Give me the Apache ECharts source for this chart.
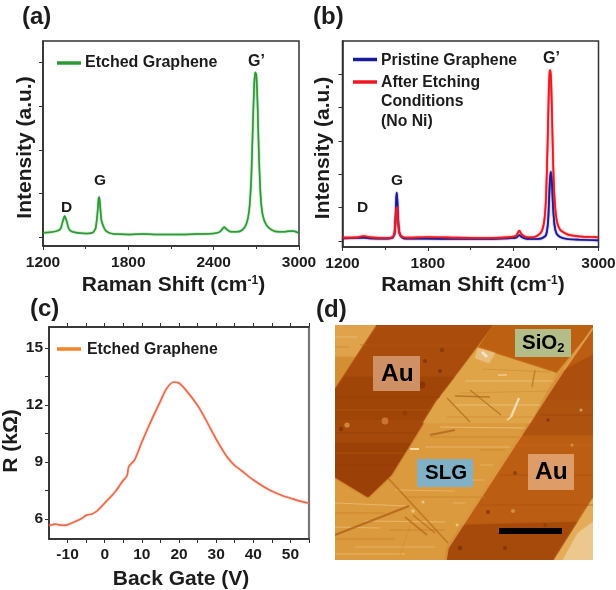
<!DOCTYPE html>
<html><head><meta charset="utf-8">
<style>html,body{margin:0;padding:0;background:#fff}#c{width:616px;height:590px}</style>
<script src="https://cdn.jsdelivr.net/npm/echarts@6/dist/echarts.min.js"></script>
</head><body><div id="c"></div>
<script>
const ramanTicks = ['1200','1800','2400','3000'];
const gateTicks = [-10,0,10,20,30,40,50];
const gateMinor = [-10,-5,0,5,10,15,20,25,30,35,40,45,50,55];
const resistanceTicks = [6,9,12,15];
const resistanceMinor = [6,7.5,9,10.5,12,13.5,15];
const intensityTicksA = [0,1,2,3,4];
const intensityTicksB = [0,1,2,3,4,5];

const etched = [[1200,.10],[1250,.11],[1300,.14],[1325,.2],[1340,.37],[1352,.48],[1365,.38],[1380,.2],[1400,.13],[1450,.09],[1500,.08],[1550,.1],[1570,.2],[1583,.55],[1590,.85],[1596,.92],[1602,.72],[1610,.4],[1625,.24],[1640,.15],[1670,.09],[1700,.07],[1800,.06],[1900,.07],[2000,.06],[2100,.06],[2200,.06],[2300,.07],[2400,.08],[2440,.11],[2465,.2],[2475,.23],[2490,.18],[2520,.12],[2560,.12],[2600,.16],[2630,.3],[2650,.62],[2665,1.4],[2675,2.5],[2685,3.5],[2692,3.78],[2700,3.72],[2708,3.1],[2717,2.0],[2730,.95],[2745,.5],[2770,.28],[2810,.16],[2860,.12],[2920,.13],[2960,.14],[3000,.09]];
const pristine = [[1200,.08],[1300,.09],[1350,.1],[1400,.08],[1500,.07],[1550,.09],[1565,.2],[1573,.7],[1578,1.3],[1582,1.45],[1586,1.2],[1592,.6],[1600,.25],[1615,.12],[1650,.07],[1800,.07],[2000,.06],[2200,.06],[2350,.08],[2420,.1],[2443,.18],[2460,.12],[2490,.07],[2550,.06],[2600,.08],[2630,.17],[2645,.55],[2652,1.2],[2658,1.8],[2665,2.08],[2672,1.8],[2680,1.05],[2690,.5],[2705,.22],[2730,.12],[2780,.06],[2860,.04],[3000,.02]];
const afterEtching = [[1200,.1],[1300,.11],[1350,.15],[1400,.11],[1500,.09],[1550,.11],[1565,.22],[1573,.6],[1578,.95],[1582,1.02],[1586,.9],[1592,.5],[1600,.25],[1615,.14],[1650,.1],[1800,.12],[2000,.1],[2200,.09],[2350,.11],[2420,.16],[2443,.31],[2460,.2],[2490,.12],[2530,.11],[2570,.16],[2600,.28],[2620,.65],[2632,1.4],[2642,2.9],[2650,4.4],[2656,5.05],[2660,5.13],[2666,4.9],[2672,4.0],[2680,2.5],[2690,1.35],[2705,.65],[2730,.34],[2780,.2],[2860,.14],[2950,.12],[3000,.11]];
const backGate = [[-15,5.67],[-14,5.7],[-13.5,5.74],[-12.5,5.7],[-11,5.67],[-10,5.7],[-8,5.86],[-6,6.05],[-5,6.2],[-3.5,6.26],[-2,6.44],[0,6.84],[2,7.25],[3,7.48],[4,7.76],[5,8.04],[6,8.28],[6.5,8.76],[8,9.1],[10,10.05],[12,10.95],[15,12.2],[16.7,12.87],[18.5,13.2],[20,13.15],[22,12.75],[25,11.98],[27,11.3],[30,10.2],[31.5,9.7],[33,9.25],[35,8.82],[37,8.52],[40,8.06],[43,7.68],[45,7.47],[48,7.22],[50,7.1],[53,6.92],[55,6.84]];

// AFM image of panel (d): regions, in image pixels
const afmBase = [[[0,0],[258,0],[258,235],[0,235]]];
const afmRegions = [
 {c:'#a94c0c',p:[[41,0],[158,0],[101,77],[56,150],[33,172],[0,152],[0,63]]},
 {c:'#a04508',p:[[7,52],[119.5,52],[101,77],[90,95],[0,95],[0,63]]},
 {c:'#a5490b',p:[[0,95],[90,95],[76,118],[0,118]]},
 {c:'#9b4006',p:[[0,118],[76,118],[56,150],[33,172],[0,152]]},
 {c:'#bd6012',p:[[158,0],[258,0],[258,3],[221,48],[143,23]]},
 {c:'#bb5d12',p:[[258,3],[229,45],[113,223],[111,235],[219,235],[258,173]]},
 {c:'#ac4e0d',p:[[229,45],[258,30],[258,75],[209.5,75]]},
 {c:'#ad530f',p:[[209.5,75],[258,75],[258,110],[187,110]]},
 {c:'#a54a0b',p:[[128,200],[243,197],[219,235],[111,235],[113,223]]},
 {c:'#e0a448',p:[[143,23],[221,48],[195,98],[88,98],[101,77]]},
 {c:'#e9bd7c',p:[[143,23],[160,28],[154,38],[140,33]]},
 {c:'#e4ac58',p:[[258,173],[258,235],[219,235]]},
 {c:'#ecc88e',p:[[258,197],[258,235],[228,235],[243,208]]},
 {c:'#e0a24a',p:[[0,0],[41,0],[20,32],[0,32]]},
 {c:'#d48e34',p:[[0,32],[20,32],[0,63]]}
];
// x1,y1,x2,y2,colour,width
const afmLines = [
 [258,3,229,45,'#e9b25e',2],[229,45,113,223,'#e5a750',1.6],[113,223,111,235,'#e5a750',1.6],
 [0,178,72,181,'#efc27a',1],[0,188,50,188,'#c97f28',1],[30,196,110,197,'#efc27a',1],[0,202,45,203,'#efc27a',1.2],
 [55,205,110,205,'#c77c25',1],[0,214,60,214,'#c97f28',1],[20,222,100,222,'#ecbb70',1],[0,229,70,229,'#efc27a',1],
 [60,165,120,166,'#ecbb70',1],[70,172,150,172,'#c98229',1],[90,122,175,122,'#edc07a',1.2],
 [95,112,185,112,'#c98229',1],[105,102,190,103,'#f0ca88',1.2],[112,92,200,92,'#d08a30',1],[120,80,205,80,'#f0ca88',1],
 [125,68,215,66,'#d39036',1],[130,56,218,56,'#f0ca88',1],[148,44,215,47,'#cf8a30',1],[145,140,158,140,'#ecbb70',1],
 [130,155,150,155,'#ecbb70',1],[145,125,170,125,'#c98229',1],[118,178,130,178,'#ecbb70',1],
 [0,12,22,12,'#efc27a',1],[0,22,14,22,'#c98229',1],
 [0,72,105,72,'#8f3c06',1],[0,85,95,85,'#b4590f',1],[0,108,82,108,'#8f3c06',1],[0,128,70,128,'#b4590f',1],[0,140,62,140,'#8f3c06',1],[25,20,135,20,'#b85e14',.8],
 [205,90,258,90,'#9a4208',1],[180,120,258,120,'#c46a1a',1],[165,150,258,150,'#a94c0c',.8],[145,180,258,180,'#a94c0c',.8],
 [0,210,74,181,'#a85a12',2.4],
 [53,153,113,218,'#b56a1a',1.6],[70,192,92,210,'#b56a1a',2],[78,190,100,208,'#b56a1a',1.4],
 [112,73,135,97,'#a96515',1.2],[135,65,166,90,'#a96515',1.2],[120,71,155,72,'#a96515',1.4],[200,45,197,62,'#b8761e',1.6],
 [95,110,120,105,'#a8601a',1.8],[65,230,75,200,'#c88a3a',.8],
 [184,73,176,92,'#fbf1d8',2.4],[176,92,172,95,'#f7e3b8',2],[147,27,152,32,'#fbf3df',3],[163,50,172,50,'#f5e2b5',1.4],
 [75,124,84,124,'#fff3d6',2]
];
const afmPits = [[12,100,2.6,'#e0a155'],[50,96,3.4,'#d68c45'],[6,104,2.2,'#7a2c03'],[42,42,2.2,'#7c2f04'],[107,25,2.2,'#83350a'],[105,46,2,'#7c2f04'],[90,36,2,'#7c2f04'],[87,60,3.4,'#7c2f04'],[70,88,2.2,'#8a3806'],[180,148,2,'#83350a'],[153,187,2,'#7c2f04'],[178,186,2,'#dba15a'],[213,95,1.8,'#7c2f04'],[246,85,1.6,'#e7ba78'],[210,200,1.8,'#8a3806'],[170,223,2,'#7a2c03'],[125,223,2.2,'#7a2c03'],[237,120,1.6,'#dba15a'],[78,186,1.8,'#f2d596'],[88,177,1.6,'#f2d596'],[122,200,1.4,'#f2d596']];
const afmBoxes = [
 {c:'#cf9065',r:[38,31,47,35]},{c:'#b3bd88',r:[180,4,56,28]},{c:'#80b1c6',r:[82,134,56,28]},{c:'#dd9c68',r:[193,129,46,36]},{c:'#000',r:[164,203,63,6]}
];

const ink = '#1c1c1c', F = '"Liberation Sans",Arial,sans-serif';
const tickLbl = {color:ink,fontFamily:F,fontWeight:'bold',fontSize:15.5};
const nameS = {color:ink,fontFamily:F,fontWeight:'bold',fontSize:21};
const line = {show:true,onZero:false,lineStyle:{color:'#2b2b2b',width:1.5}};
const boxGrid = (l,t,r,b)=>({left:l,top:t,width:r-l,height:b-t,show:true,backgroundColor:'#fff',borderColor:'#333',borderWidth:1.5,outerBoundsMode:'none'});
const ramanAxis = (g,gap)=>({type:'value',gridIndex:g,min:1200,max:3000,interval:600,splitLine:{show:false},axisLine:line,
  axisTick:{show:true,length:4,inside:false,lineStyle:{color:'#333'}},minorTick:{show:true,splitNumber:2,length:3,lineStyle:{color:'#333'}},minorSplitLine:{show:false},
  axisLabel:Object.assign({formatter:v=>ramanTicks.includes(String(v))?String(v):'',margin:9},tickLbl),
  name:'{a|Raman Shift (cm}{s|-1}{a|)}',nameLocation:'middle',nameGap:gap,
  nameTextStyle:{padding:[0,0,0,5],rich:{a:Object.assign({},nameS),s:{color:ink,fontFamily:F,fontWeight:'bold',fontSize:12,verticalAlign:'top',padding:[0,0,8,0]}}}});
const intAxis = (g,min,max,ticks,gap)=>({type:'value',gridIndex:g,min,max,splitLine:{show:false},axisLine:line,
  axisTick:{show:true,length:4,customValues:ticks,lineStyle:{color:'#333'}},axisLabel:{show:false},
  name:'Intensity (a.u.)',nameLocation:'middle',nameGap:gap,nameTextStyle:Object.assign({padding:[0,8,0,0]},nameS)});
const curve = (name,g,data,color,w,sm)=>({type:'line',name,xAxisIndex:g,yAxisIndex:g,data,showSymbol:false,smooth:sm||.2,
  lineStyle:{color,width:w,shadowColor:color,shadowBlur:1.5},itemStyle:{color},silent:true,z:3});

const txt = (x,y,s,size,extra)=>Object.assign({type:'text',x,y,z:100,style:Object.assign({text:s,fill:ink,font:`bold ${size}px ${F}`,textVerticalAlign:'middle'},extra||{})});
const bar = (x,y,w,c)=>({type:'rect',z:100,shape:{x,y:y-1.75,width:w,height:3.5},style:{fill:c}});

const dGrid = {left:335,top:325,width:258,height:235,show:false,outerBoundsMode:'none'};
const opt = {
 animation:false,backgroundColor:'#fff',
 grid:[boxGrid(43,41,299,246),boxGrid(342.5,41,598.5,247),boxGrid(49,327,309,539),dGrid],
 xAxis:[ramanAxis(0,29),ramanAxis(1,28),
  {type:'value',gridIndex:2,min:-15,max:55,splitLine:{show:false},axisLine:line,
   axisTick:{show:true,length:4,customValues:gateMinor,lineStyle:{color:'#333'}},
   axisLabel:Object.assign({customValues:gateTicks,margin:8},tickLbl),
   name:'Back Gate (V)',nameLocation:'middle',nameGap:30,nameTextStyle:Object.assign({padding:[0,0,0,4]},nameS)},
  {type:'value',gridIndex:2,position:'top',min:-15,max:55,splitLine:{show:false},axisLine:line,
   axisTick:{show:true,length:4,customValues:gateMinor,lineStyle:{color:'#333'}},axisLabel:{show:false}},
  {type:'value',gridIndex:3,min:0,max:258,show:false}],
 yAxis:[intAxis(0,-0.206,4.495,intensityTicksA,7),intAxis(1,-0.18,6.0,intensityTicksB,9),
  {type:'value',gridIndex:2,min:4.95,max:16.1,splitLine:{show:false},axisLine:line,
   axisTick:{show:true,length:4,customValues:resistanceMinor,lineStyle:{color:'#333'}},
   axisLabel:Object.assign({customValues:resistanceTicks,margin:6},tickLbl),
   name:'R (kΩ)',nameLocation:'middle',nameGap:16,nameTextStyle:Object.assign({padding:[0,16,0,0]},nameS)},
  {type:'value',gridIndex:2,position:'right',min:4.95,max:16.1,splitLine:{show:false},
   axisLine:{show:true,onZero:false,lineStyle:{color:'#777',width:2.2}},axisTick:{show:false},axisLabel:{show:false}},
  {type:'value',gridIndex:3,min:0,max:235,inverse:true,show:false}],
 series:[
  curve('Etched Graphene',0,etched,'#2c9a34',1.5),
  curve('Pristine Graphene',1,pristine,'#1a1a9c',1.7),
  curve('After Etching Conditions (No Ni)',1,afterEtching,'#f01820',1.7),
  curve('Etched Graphene (device)',2,backGate,'#ea6a4a',1.4,.3),
  {type:'custom',name:'AFM',xAxisIndex:4,yAxisIndex:4,coordinateSystem:'cartesian2d',silent:true,clip:true,z:2,
   data:[[0,0]],
   renderItem:(p,api)=>{
    const c=[];
    const poly=(pts,fill)=>c.push({type:'polygon',shape:{points:pts.map(q=>api.coord(q))},style:{fill,shadowBlur:2,shadowColor:fill}});
    afmBase.forEach(q=>poly(q,'#dc9a3e'));
    afmRegions.forEach(r=>poly(r.p,r.c));
    afmLines.forEach(l=>{const a=api.coord([l[0],l[1]]),b=api.coord([l[2],l[3]]);
      c.push({type:'line',shape:{x1:a[0],y1:a[1],x2:b[0],y2:b[1]},style:{stroke:l[4],lineWidth:l[5],opacity:.7}});});
    afmPits.forEach(d=>{const a=api.coord([d[0],d[1]]);c.push({type:'circle',shape:{cx:a[0],cy:a[1],r:d[2]},style:{fill:d[3],opacity:.7}});});
    afmBoxes.forEach(b=>{const a=api.coord([b.r[0],b.r[1]]),e=api.coord([b.r[0]+b.r[2],b.r[1]+b.r[3]]);
      c.push({type:'rect',shape:{x:a[0],y:a[1],width:e[0]-a[0],height:e[1]-a[1]},style:{fill:b.c}});});
    return {type:'group',children:c};
   }}
 ],
 graphic:{elements:[
  txt(22,17,'(a)',24),txt(313,17,'(b)',24),txt(30,309,'(c)',24),txt(316,310,'(d)',24),
  bar(57,63,24,'#2c9a34'),txt(85,63,'Etched Graphene',16),
  txt(61,208,'D',15.5),txt(94,181,'G',15.5),txt(248,62,'G’',16),
  bar(353,59.5,24,'#1a1a9c'),txt(381,60.5,'Pristine Graphene',15.8),
  bar(353,82,24,'#f01820'),txt(381,83,'After Etching',15.8),txt(381,102,'Conditions',15.8),txt(381,122,'(No Ni)',15.8),
  txt(357,208,'D',15.5),txt(391,181,'G',15.5),txt(543,59,'G’',16),
  bar(57,349,24,'#f58428'),txt(87,350,'Etched Graphene',15.8),
  txt(381,374,'Au',24.5,{fill:'#000'}),txt(535,472,'Au',24.5,{fill:'#000'}),txt(425,473,'SLG',20.5,{fill:'#000'}),
  {type:'text',x:522,y:343,z:100,style:{text:'{a|SiO}{b|2}',textVerticalAlign:'middle',fill:'#000',rich:{a:{font:`bold 20.5px ${F}`,fill:'#000'},b:{font:`bold 13px ${F}`,fill:'#000',verticalAlign:'bottom',padding:[10,0,0,0]}}}}
 ]}
};
echarts.init(document.getElementById('c'),null,{renderer:'canvas'}).setOption(opt);
</script></body></html>
